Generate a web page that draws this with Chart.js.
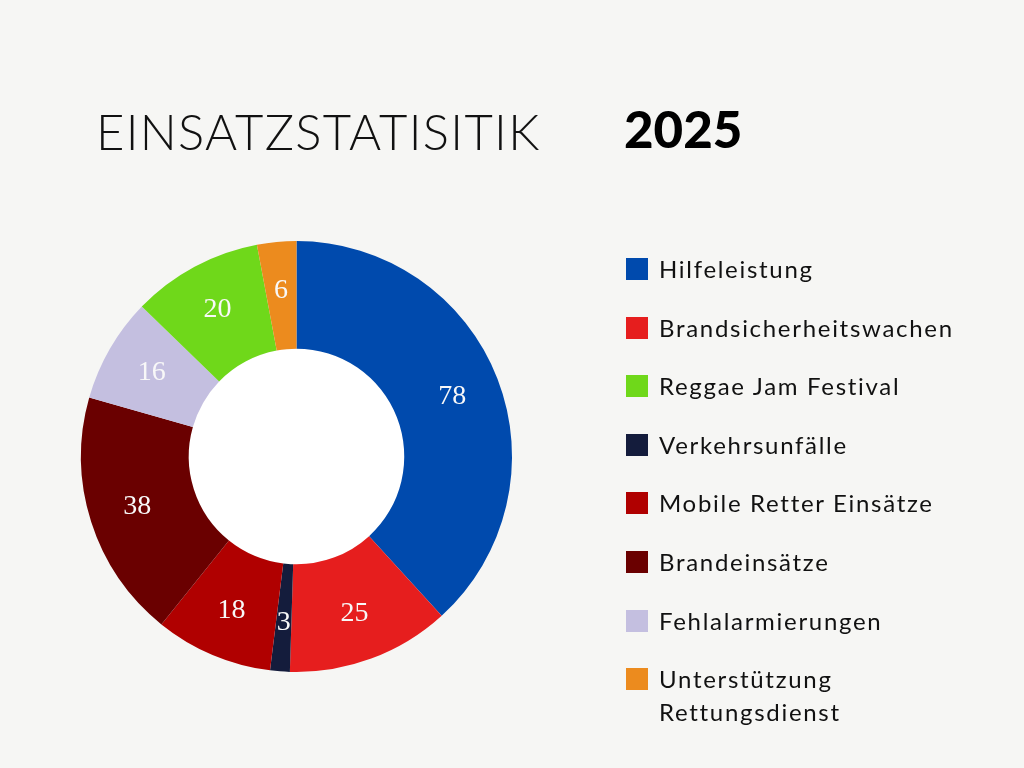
<!DOCTYPE html>
<html>
<head>
<meta charset="utf-8">
<script src="https://cdn.jsdelivr.net/npm/chart.js@4.4.1/dist/chart.umd.min.js"></script>
<style>
  html, body { margin:0; padding:0; background:#f6f6f4; }
  #wrap { position:relative; width:1024px; height:768px; overflow:hidden; background:#f6f6f4; }
  #c { position:absolute; left:0; top:0; }
  .t1 { position:absolute; left:96px; top:101px; font-family:Lato, sans-serif; font-weight:300; font-size:49px; color:#111; letter-spacing:1.3px; line-height:60px; white-space:nowrap; }
  .t2 { position:absolute; left:624px; top:99px; font-family:Lato, sans-serif; font-weight:900; font-size:51px; color:#000; line-height:60px; white-space:nowrap; }
  #legend { position:absolute; left:626px; top:0; font-family:Lato, sans-serif; font-size:24px; color:#111; letter-spacing:1.7px; }
  .li { position:absolute; left:0; white-space:nowrap; }
  .li .box { position:absolute; left:0; width:22px; height:22px; }
  .li .tx { position:absolute; left:33px; line-height:33px; }
</style>
</head>
<body>
<div id="wrap">
  <canvas id="c" width="1024" height="768"></canvas>
  <div class="t1">EINSATZSTATISITIK</div>
  <div class="t2">2025</div>
  <div id="legend"></div>
</div>
<script>
// Data (clockwise from top)
const categories = ["Hilfeleistung", "Brandsicherheitswachen", "Verkehrsunfälle", "Mobile Retter Einsätze", "Brandeinsätze", "Fehlalarmierungen", "Reggae Jam Festival", "Unterstützung Rettungsdienst"];
const values = [78, 25, 3, 18, 38, 16, 20, 6];
const colors = ["#004aad", "#e61e1e", "#141c3c", "#b00000", "#6a0000", "#c4bfe0", "#6fd81a", "#ec8b1e"];
// Legend order as shown in the reference
const legendOrder = ["Hilfeleistung", "Brandsicherheitswachen", "Reggae Jam Festival", "Verkehrsunfälle", "Mobile Retter Einsätze", "Brandeinsätze", "Fehlalarmierungen", "Unterstützung Rettungsdienst"];
const legendLines = {"Unterstützung Rettungsdienst": ["Unterstützung", "Rettungsdienst"]};

// HTML legend
const legendEl = document.getElementById('legend');
legendOrder.forEach((name, i) => {
  const idx = categories.indexOf(name);
  const row = document.createElement('div');
  row.className = 'li';
  const cy = 269 + i * 58.6;
  row.style.top = (cy - 11) + 'px';
  const box = document.createElement('div');
  box.className = 'box';
  box.style.background = colors[idx];
  box.style.top = '0px';
  const tx = document.createElement('div');
  tx.className = 'tx';
  tx.style.top = '-6px';
  tx.innerHTML = (legendLines[name] || [name]).join('<br>');
  row.appendChild(box); row.appendChild(tx);
  legendEl.appendChild(row);
});

const holePlugin = {
  id: 'hole',
  beforeDatasetsDraw(chart) {
    const arc = chart.getDatasetMeta(0).data[0];
    if (!arc) return;
    const ctx = chart.ctx;
    ctx.save();
    ctx.fillStyle = '#ffffff';
    ctx.beginPath();
    ctx.arc(arc.x, arc.y, arc.innerRadius, 0, Math.PI * 2);
    ctx.fill();
    ctx.restore();
  }
};

const labelPlugin = {
  id: 'sliceLabels',
  afterDatasetsDraw(chart) {
    const ctx = chart.ctx;
    const meta = chart.getDatasetMeta(0);
    ctx.save();
    ctx.fillStyle = '#f8f8f8';
    ctx.font = '28px "Liberation Serif", serif';
    ctx.textAlign = 'center';
    ctx.textBaseline = 'middle';
    meta.data.forEach((arc, i) => {
      const p = arc.getProps(['x','y','startAngle','endAngle','innerRadius','outerRadius'], true);
      const a = (p.startAngle + p.endAngle) / 2;
      const r = p.innerRadius + 0.55 * (p.outerRadius - p.innerRadius);
      ctx.fillText(String(values[i]), p.x + Math.cos(a) * r, p.y + Math.sin(a) * r);
    });
    ctx.restore();
  }
};

new Chart(document.getElementById('c'), {
  type: 'doughnut',
  data: {
    labels: categories,
    datasets: [{ data: values, backgroundColor: colors, borderWidth: 0 }]
  },
  options: {
    responsive: false,
    animation: false,
    cutout: '50%',
    layout: { padding: { left: 81, top: 241, right: 512, bottom: 96 } },
    plugins: { legend: { display: false }, tooltip: { enabled: false }, title: { display: false } }
  },
  plugins: [holePlugin, labelPlugin]
});
</script>
</body>
</html>
